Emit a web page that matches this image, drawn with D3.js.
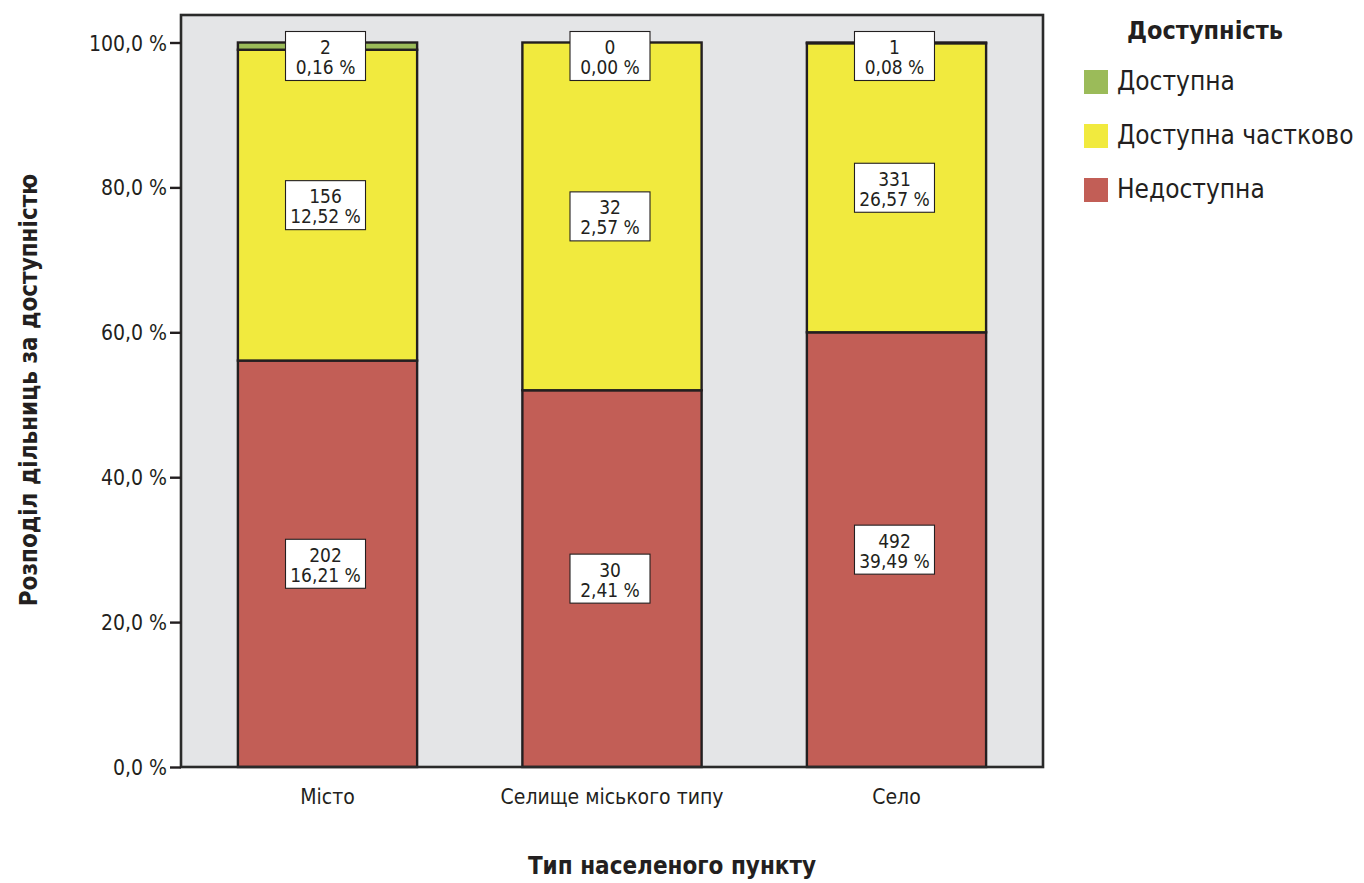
<!DOCTYPE html>
<html><head><meta charset="utf-8">
<script src="https://cdn.jsdelivr.net/npm/d3@7/dist/d3.min.js"></script>
<style>
html,body{margin:0;padding:0;background:#fff;}
text{font-family:"Liberation Sans Narrow","DejaVu Sans Condensed","Liberation Sans",sans-serif;fill:#231f20;}
</style></head>
<body>
<svg id="chart" width="1364" height="883"></svg>
<script>
// ---- data ----
const categories = ["Місто", "Селище міського типу", "Село"];
const seriesNames = ["Недоступна", "Доступна частково", "Доступна"];
const seriesColors = ["#c25e56", "#f1ea3e", "#9bbb59"];
// counts shown in labels
const countRed = [202, 30, 492];
const countYellow = [156, 32, 331];
const countGreen = [2, 0, 1];
// share of all polling stations, % (labels)
const shareRed = [16.21, 2.41, 39.49];
const shareYellow = [12.52, 2.57, 26.57];
const shareGreen = [0.16, 0.00, 0.08];
// column percentages as drawn (bar heights)
const pctRed = [56.1, 52.0, 60.0];
const pctYellow = [42.9, 48.0, 39.9];
const pctGreen = [1.0, 0.0, 0.1];
const yTicks = [0, 20, 40, 60, 80, 100];
const yTitle = "Розподіл дільниць за доступністю";
const xTitle = "Тип населеного пункту";
const legendTitle = "Доступність";

// ---- layout ----
const svg = d3.select("#chart");
const frame = {x0: 181, x1: 1043, y0: 15, y1: 767};
const x = d3.scaleBand().domain(categories).range([frame.x0, frame.x1]).paddingInner(0.37).paddingOuter(0.2);
const y = d3.scaleLinear().domain([0, 100]).range([767, 42.5]);
const ink = "#231f20";
const FF = "'Liberation Sans Narrow','DejaVu Sans Condensed',sans-serif";
const fmt = v => v.toFixed(2).replace(".", ",") + " %";

// plot background
svg.append("rect").attr("x", frame.x0).attr("y", frame.y0)
  .attr("width", frame.x1 - frame.x0).attr("height", frame.y1 - frame.y0)
  .attr("fill", "#e4e5e7");

// stacked segments
const counts = [countRed, countYellow, countGreen];
const shares = [shareRed, shareYellow, shareGreen];
const pcts = [pctRed, pctYellow, pctGreen];
const segs = [];
categories.forEach((c, i) => {
  let base = 0;
  pcts.forEach((arr, s) => {
    const v = arr[i];
    segs.push({cat: c, s, y0: base, y1: base + v, count: counts[s][i], share: shares[s][i]});
    base += v;
  });
});
const g = svg.append("g");
g.selectAll("rect.seg").data(segs.filter(d => d.y1 > d.y0)).join("rect")
  .attr("class", "seg")
  .attr("x", d => x(d.cat)).attr("width", x.bandwidth())
  .attr("y", d => y(d.y1)).attr("height", d => y(d.y0) - y(d.y1))
  .attr("fill", d => seriesColors[d.s])
  .attr("stroke", ink).attr("stroke-width", 2.4);

// frame
svg.append("rect").attr("x", frame.x0).attr("y", frame.y0)
  .attr("width", frame.x1 - frame.x0).attr("height", frame.y1 - frame.y0)
  .attr("fill", "none").attr("stroke", "#2a2a2a").attr("stroke-width", 2.6);

// y axis
const yAxis = d3.axisLeft(y).tickValues(yTicks).tickSize(11).tickPadding(3)
  .tickFormat(d => d.toFixed(1).replace(".", ",") + " %");
const ya = svg.append("g").attr("transform", `translate(${frame.x0},0)`).call(yAxis);
ya.select(".domain").remove();
ya.selectAll(".tick line").attr("stroke", ink).attr("stroke-width", 2.4);
ya.selectAll(".tick text").attr("font-size", 21).style("font-family", FF).attr("fill", ink).attr("dy", "0.36em");

// x axis labels
const xAxis = d3.axisBottom(x).tickSize(0).tickPadding(22);
const xa = svg.append("g").attr("transform", `translate(0,${frame.y1})`).call(xAxis);
xa.select(".domain").remove();
xa.selectAll(".tick text").attr("font-size", 21).style("font-family", FF).attr("fill", ink);

// labels
const boxW = 80, boxH = 49;
const lab = svg.append("g");
segs.forEach(d => {
  let cy = (y(d.y0) + y(d.y1)) / 2;
  cy = Math.max(cy, y(100) + 13.5);
  const cx = x(d.cat) + x.bandwidth() / 2;
  const gg = lab.append("g").attr("transform", `translate(${cx},${cy})`);
  gg.append("rect").attr("x", -boxW / 2 - 2).attr("y", -boxH / 2).attr("width", boxW).attr("height", boxH)
    .attr("fill", "#fff").attr("stroke", ink).attr("stroke-width", 1.1);
  gg.append("text").attr("x", -2).attr("y", -2).attr("text-anchor", "middle").attr("font-size", 19).text(d.count);
  gg.append("text").attr("x", -2).attr("y", 18).attr("text-anchor", "middle").attr("font-size", 19).text(fmt(d.share));
});

// axis titles
svg.append("text").attr("x", 672).attr("y", 874).attr("text-anchor", "middle")
  .attr("font-size", 24).attr("font-weight", "bold").text(xTitle);
svg.append("text").attr("transform", "translate(37,390) rotate(-90)").attr("text-anchor", "middle")
  .attr("font-size", 24).attr("font-weight", "bold").text(yTitle);

// legend
const leg = svg.append("g");
leg.append("text").attr("x", 1205).attr("y", 39).attr("text-anchor", "middle")
  .attr("font-size", 25).attr("font-weight", "bold").text(legendTitle);
const legOrder = [2, 1, 0];
legOrder.forEach((s, k) => {
  const yy = 70 + k * 54;
  leg.append("rect").attr("x", 1084).attr("y", yy).attr("width", 24).attr("height", 24).attr("fill", seriesColors[s]);
  leg.append("text").attr("x", 1117).attr("y", yy + 20).attr("font-size", 26).text(seriesNames[s]);
});
</script>
</body></html>
